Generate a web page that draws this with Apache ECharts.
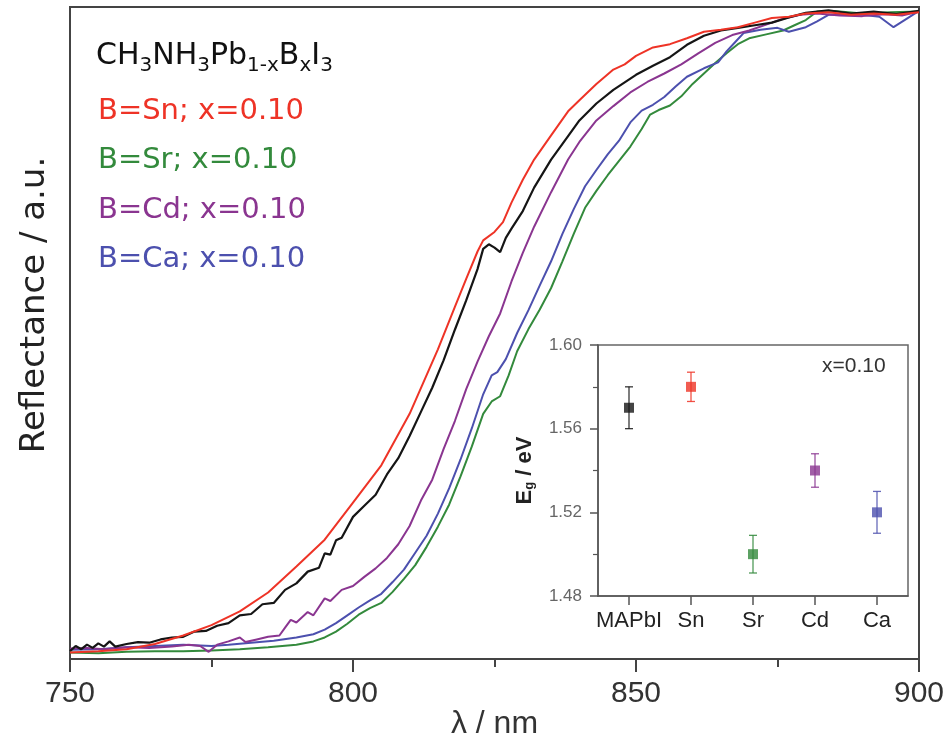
<!DOCTYPE html>
<html><head><meta charset="utf-8">
<script src="https://cdn.jsdelivr.net/npm/echarts@6/dist/echarts.min.js"></script>
<style>html,body{margin:0;padding:0;background:#fff}#c{width:947px;height:744px}</style>
</head><body><div id="c"></div>
<script>
// ---------- main plot data (wavelength nm, reflectance a.u. 0-100) ----------
const lamPb = [750,751,752,753,754,755,756,757,758,760,762,764,766,768,770,772,774,776,778,780,782,784,786,788,790,792,794,795,796,797,798,800,802,804,806,808,810,812,814,816,818,820,822,823,824,825,826,827,828,830,832,835,838,840,843,846,850,853,856,859,862,865,868,871,874,877,880,884,888,892,896,900];
const refPb = [1.2,2.0,1.5,2.2,1.7,2.4,1.9,2.7,1.9,2.3,2.6,2.5,3.0,3.3,3.4,4.2,4.3,5.1,5.5,6.7,6.9,8.4,8.6,10.6,11.6,13.4,14.0,16.2,16.0,18.2,18.6,21.8,23.5,25.2,28.3,30.8,34.2,37.9,41.6,45.8,50.5,55.0,59.8,62.9,63.6,63.1,62.4,64.6,66.0,68.7,72.3,76.6,80.2,82.6,85.2,87.3,89.6,91.0,92.3,94.2,95.6,96.4,96.8,97.2,97.6,98.4,99.1,99.5,99.0,99.3,98.9,99.4];

const lamSn = [750,755,760,765,770,775,780,785,790,795,800,805,810,815,818,820,822,823,825,826.5,828,830,832,835,838,840,843,846,848,850,853,856,859,862,865,868,871,874,877,880,884,888,892,896,900];
const refSn = [1.0,1.2,1.5,2.3,3.6,5.2,7.3,10.2,14.2,18.3,24.0,29.7,37.6,47.5,54.0,58.3,62.5,64.2,65.5,67.0,70.0,73.5,76.6,80.3,84.0,85.7,88.2,90.4,91.2,92.5,93.8,94.3,95.2,96.2,96.5,96.9,97.6,98.3,98.5,99.0,99.2,98.8,99.0,98.8,99.2];

const lamSr = [750,755,760,765,770,775,780,785,790,793,795,797,799,801,803,805,807,809,811,813,815,817,819,821,823,824.5,826,827.5,829,831,833,835,837,839,841,843,845,847,849,851,852.5,854,856,858,860,862,864,866,868,870,873,876,878,880,882,885,890,895,900];
const refSr = [1.0,0.9,1.1,1.2,1.2,1.3,1.5,1.8,2.2,2.7,3.3,4.2,5.4,6.8,7.8,8.6,10.3,12.3,14.4,17.2,20.3,23.7,28.0,32.6,37.6,39.5,40.3,43.5,47.2,50.6,53.6,56.9,61.0,65.2,69.2,71.8,74.2,76.4,78.6,81.3,83.5,84.2,84.9,86.3,88.2,89.8,91.4,92.9,94.3,95.2,95.8,96.4,97.2,98.0,99.3,99.4,99.0,99.2,99.3];

const lamCd = [750,753,756,760,764,768,771,773,774.5,776,778,780,781,783,785,787,788,789,790,792,793,795,796,798,800,802,804,806,808,810,812,814,816,818,820,822,824,826,828,830,832,835,838,840,843,846,849,852,855,858,861,864,867,870,873,876,879,882,886,890,894,897,900];
const refCd = [1.6,1.7,1.5,1.8,1.7,1.9,2.2,2.0,1.1,2.2,2.7,3.3,2.6,3.0,3.4,3.6,4.8,6.0,5.6,7.2,6.7,9.3,8.9,10.6,11.2,12.6,13.9,15.5,17.6,20.4,24.3,27.5,32.2,36.5,41.4,45.6,49.5,53.0,57.9,62.3,66.3,71.6,76.6,79.3,82.6,84.8,86.9,88.5,89.8,91.2,92.9,94.5,95.7,96.4,97.3,98.2,98.8,99.0,98.7,98.6,98.9,98.7,99.3];

const lamCa = [750,755,760,765,770,775,778,782,786,790,793,795,797,799,801,803,805,807,809,811,813,815,817,819,821,823,824.5,825.5,827,829,831,833,835,837,839,841,843,845,847,849,851,853,855,857,859,862,864.5,866,867.5,869,872,875,877,880,882,884,887,890,893,895.5,898,900];
const refCa = [1.4,1.5,1.8,2.0,2.2,2.0,2.2,2.5,2.8,3.3,3.8,4.5,5.5,6.7,7.9,9.0,10.0,11.8,13.7,16.3,18.9,22.3,26.2,30.6,35.4,40.6,43.5,44.0,46.0,50.0,53.5,57.3,61.0,65.2,69.0,72.5,75.0,77.4,79.5,82.3,84.1,85.0,86.2,87.8,89.3,90.6,91.5,93.2,94.6,96.0,96.5,96.8,96.2,96.9,97.8,98.8,98.9,98.8,98.5,96.9,98.3,99.4];

const xTickValues = [750, 800, 850, 900];

// ---------- inset data ----------
const insetCats = ['MAPbI', 'Sn', 'Sr', 'Cd', 'Ca'];
const insetEg = [1.57, 1.58, 1.50, 1.54, 1.52];
const insetErr = [0.010, 0.007, 0.009, 0.008, 0.010];
const insetTicks = [1.48, 1.52, 1.56, 1.60];

// ---------- styles ----------
const C = { pb: '#151515', sn: '#ee3326', sr: '#338a3c', cd: '#8a3590', ca: '#4c50ae' };
const insetColors = [C.pb, C.sn, C.sr, C.cd, C.ca];
const zip = (a, b) => a.map((v, i) => [v, b[i]]);

const chart = echarts.init(document.getElementById('c'), null, { renderer: 'canvas' });

const lineSeries = (name, lam, ref, color, z, w) => ({
  name, type: 'line', data: zip(lam, ref), showSymbol: false, symbol: 'none',
  smooth: false, lineStyle: { color, width: w || 2 }, itemStyle: { color }, z, silent: true
});

chart.setOption({
  animation: false,
  backgroundColor: '#fff',
  title: {
    text: 'CH{s|3}NH{s|3}Pb{s|1-x}B{s|x}I{s|3}',
    left: 96, top: 36, padding: 0,
    textStyle: {
      fontFamily: 'DejaVu Sans', fontSize: 30, fontWeight: 'normal', color: '#111', lineHeight: 40,
      rich: { s: { fontFamily: 'DejaVu Sans', fontSize: 20, lineHeight: 20, verticalAlign: 'bottom', color: '#111' } }
    }
  },
  legend: {
    orient: 'vertical', left: 93, top: 96, icon: 'none', itemWidth: 0, itemHeight: 30, itemGap: 20,
    selectedMode: false, padding: 0,
    textStyle: { fontFamily: 'DejaVu Sans', fontSize: 29 },
    data: [
      { name: 'B=Sn; x=0.10', textStyle: { color: C.sn } },
      { name: 'B=Sr; x=0.10', textStyle: { color: C.sr } },
      { name: 'B=Cd; x=0.10', textStyle: { color: C.cd } },
      { name: 'B=Ca; x=0.10', textStyle: { color: C.ca } }
    ]
  },
  grid: [
    { left: 70, right: 28, top: 7, bottom: 85, outerBoundsMode: 'none', containLabel: false,
      show: true, borderColor: '#444', borderWidth: 2 },
    { left: 598, top: 345, width: 310, height: 251, outerBoundsMode: 'none', containLabel: false,
      show: true, borderColor: '#666', borderWidth: 1.5, backgroundColor: '#fff', z: 5 }
  ],
  xAxis: [
    {
      type: 'value', gridIndex: 0, min: 750, max: 900, interval: 50,
      axisLine: { show: true, lineStyle: { color: '#444', width: 2 } },
      axisTick: { show: true, inside: false, length: 13, lineStyle: { color: '#444', width: 2 } },
      minorTick: { show: true, splitNumber: 2, length: 8, lineStyle: { color: '#444', width: 2 } },
      splitLine: { show: false },
      axisLabel: { fontFamily: 'Liberation Sans', fontSize: 30, color: '#333', margin: 20,
        formatter: v => xTickValues.includes(v) ? String(v) : '' },
      name: 'λ / nm', nameLocation: 'middle', nameGap: 49, nameMoveOverlap: false,
      nameTextStyle: { fontFamily: 'Liberation Sans', fontSize: 32, color: '#333' }
    },
    {
      type: 'category', gridIndex: 1, data: insetCats, boundaryGap: true,
      axisLine: { show: true, lineStyle: { color: '#555', width: 1.5 } },
      axisTick: { show: true, alignWithLabel: true, length: 9, lineStyle: { color: '#555', width: 1.5 } },
      axisLabel: { interval: 0, hideOverlap: false, fontFamily: 'Liberation Sans', fontSize: 22, color: '#222', margin: 14 },
      splitLine: { show: false }, z: 6
    }
  ],
  yAxis: [
    {
      type: 'value', gridIndex: 0, min: 0, max: 100,
      axisLine: { show: true, lineStyle: { color: '#444', width: 2 } },
      axisTick: { show: false }, axisLabel: { show: false }, splitLine: { show: false },
      name: 'Reflectance / a.u.', nameLocation: 'middle', nameGap: 18, nameMoveOverlap: false,
      nameTextStyle: { fontFamily: 'DejaVu Sans', fontSize: 34, color: '#222', padding: [0, 0, 0, 56] }
    },
    {
      type: 'value', gridIndex: 1, min: 1.48, max: 1.60, interval: 0.04,
      axisLine: { show: true, lineStyle: { color: '#555', width: 1.5 } },
      axisTick: { show: true, inside: false, length: 8, lineStyle: { color: '#555', width: 1.5 } },
      minorTick: { show: true, splitNumber: 2, length: 5, lineStyle: { color: '#555', width: 1.2 } },
      splitLine: { show: false },
      axisLabel: { fontFamily: 'Liberation Sans', fontSize: 17, color: '#666', margin: 16,
        formatter: v => v.toFixed(2) },
      name: 'E{g|g} / eV', nameLocation: 'middle', nameGap: 62, nameMoveOverlap: false,
      nameTextStyle: { fontFamily: 'Liberation Sans', fontSize: 22, color: '#222', fontWeight: 'bold',
        rich: { g: { fontFamily: 'Liberation Sans', fontSize: 13, fontWeight: 'bold', color: '#222', verticalAlign: 'bottom', lineHeight: 14 } } },
      z: 6
    }
  ],
  graphic: [
    { type: 'text', left: 822, top: 356, z: 100,
      style: { text: 'x=0.10', fontFamily: 'Liberation Sans', fontSize: 21, fill: '#333' } }
  ],
  series: [
    lineSeries('B=Sr; x=0.10', lamSr, refSr, C.sr, 2),
    lineSeries('B=Ca; x=0.10', lamCa, refCa, C.ca, 3),
    lineSeries('B=Cd; x=0.10', lamCd, refCd, C.cd, 4),
    lineSeries('MAPbI3', lamPb, refPb, C.pb, 5, 2.2),
    lineSeries('B=Sn; x=0.10', lamSn, refSn, C.sn, 6),
    {
      name: 'errbars', type: 'custom', xAxisIndex: 1, yAxisIndex: 1, z: 20, silent: true,
      data: insetEg.map((v, i) => [i, v, insetErr[i]]),
      renderItem: (params, api) => {
        const i = api.value(0), y = api.value(1), e = api.value(2);
        const hi = api.coord([i, y + e]), lo = api.coord([i, y - e]);
        const col = insetColors[params.dataIndex];
        const cw = 4;
        const st = { stroke: col, lineWidth: 1.3, opacity: 0.85 };
        return { type: 'group', children: [
          { type: 'line', shape: { x1: hi[0], y1: hi[1], x2: lo[0], y2: lo[1] }, style: st },
          { type: 'line', shape: { x1: hi[0] - cw, y1: hi[1], x2: hi[0] + cw, y2: hi[1] }, style: st },
          { type: 'line', shape: { x1: lo[0] - cw, y1: lo[1], x2: lo[0] + cw, y2: lo[1] }, style: st }
        ] };
      }
    },
    {
      name: 'Eg', type: 'scatter', xAxisIndex: 1, yAxisIndex: 1, z: 21, silent: true,
      symbol: 'rect', symbolSize: 10,
      data: insetEg.map((v, i) => ({ value: v, itemStyle: { color: insetColors[i] } }))
    }
  ]
});
</script>
</body></html>
